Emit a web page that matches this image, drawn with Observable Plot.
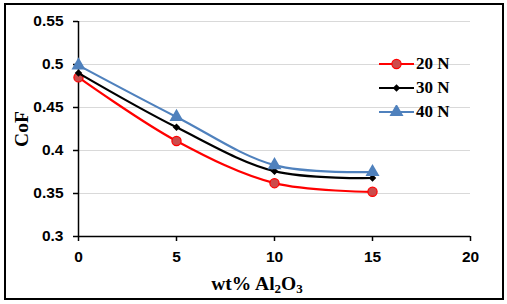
<!DOCTYPE html>
<html>
<head>
<meta charset="utf-8">
<script src="https://cdn.jsdelivr.net/npm/d3@7"></script>
<script src="https://cdn.jsdelivr.net/npm/@observablehq/plot@0.6"></script>
<style>
  html, body { margin: 0; padding: 0; background: #fff; }
  #wrap { position: relative; width: 507px; height: 304px; overflow: hidden; }
  #frame { position: absolute; left: 4px; top: 3px; width: 500px; height: 297px; border: 2px solid #000; box-sizing: border-box; pointer-events: none; }
  .lbl { position: absolute; font-family: "Liberation Serif", "Times New Roman", serif; font-weight: bold; color: #000; white-space: nowrap; }
  #ylab { left: 22px; top: 129px; font-size: 19.5px; transform: translate(-50%, -50%) rotate(-90deg); }
  #xlab { left: 257px; top: 284px; font-size: 19.5px; transform: translate(-50%, -50%); }
  #xlab sub { font-size: 13px; vertical-align: -3px; line-height: 0; }
  #legend { position: absolute; left: 379px; top: 52px; }
  .item { display: flex; align-items: center; height: 24px; font-family: "Liberation Serif", serif; font-weight: bold; font-size: 17px; }
  .item svg { margin-right: 2px; }
</style>
</head>
<body>
<div id="wrap">
  <div id="chart"></div>
  <div id="ylab" class="lbl">CoF</div>
  <div id="xlab" class="lbl">wt% Al<sub>2</sub>O<sub>3</sub></div>
  <div id="legend"></div>
  <div id="frame"></div>
</div>
<script>
const xValues = [0, 5, 10, 15];
const seriesNames = ["20 N", "30 N", "40 N"];
const cof20 = [0.485, 0.411, 0.362, 0.352];
const cof30 = [0.490, 0.427, 0.376, 0.368];
const cof40 = [0.499, 0.439, 0.383, 0.375];
const xTicks = [0, 5, 10, 15, 20];
const yTicks = [0.3, 0.35, 0.4, 0.45, 0.5, 0.55];

const lineColors = ["#ff0000", "#000000", "#4f81bd"];
const markerFill = ["#cc4b4b", "#000000", "#4f81bd"];
const symbols = ["circle", "diamond2", "triangle"];
const radii = [4.6, 3.4, 5.2];

const allSeries = [cof20, cof30, cof40];
const data = [];
allSeries.forEach((vals, i) => {
  vals.forEach((v, j) => data.push({series: seriesNames[i], x: xValues[j], y: v}));
});

const marks = [
  Plot.gridY(yTicks.filter(d => d > 0.3), {stroke: "#d9d9d9", strokeOpacity: 1, strokeWidth: 1}),
  Plot.ruleY([0.3], {stroke: "#000", strokeWidth: 1.5}),
  Plot.ruleX([0], {stroke: "#000", strokeWidth: 1.5}),
  Plot.axisX(xTicks, {tickSize: 5, tickPadding: 9, strokeWidth: 1.5, label: null, tickFormat: d => String(d)}),
  Plot.axisY(yTicks, {tickSize: 5, tickPadding: 10, strokeWidth: 1.5, label: null, tickFormat: d => String(+d.toFixed(2))}),
];
seriesNames.forEach((name, i) => {
  const sd = data.filter(d => d.series === name);
  marks.push(Plot.line(sd, {x: "x", y: "y", stroke: lineColors[i], strokeWidth: 2.2, curve: "catmull-rom"}));
  marks.push(Plot.dot(sd, {x: "x", y: "y", symbol: symbols[i], r: radii[i], fill: markerFill[i], stroke: lineColors[i], strokeWidth: i === 0 ? 1.2 : 0}));
});

const chart = Plot.plot({
  width: 507,
  height: 304,
  marginLeft: 78,
  marginRight: 37,
  marginTop: 21,
  marginBottom: 68,
  x: {domain: [0, 20]},
  y: {domain: [0.3, 0.55]},
  style: {fontFamily: "'Liberation Sans', Arial, sans-serif", fontSize: "15.5px", fontWeight: "bold", color: "#000", background: "#fff"},
  marks
});
document.getElementById("chart").appendChild(chart);

// legend
const legend = document.getElementById("legend");
seriesNames.forEach((name, i) => {
  const item = document.createElement("div");
  item.className = "item";
  const type = symbols[i] === "circle" ? d3.symbolCircle : symbols[i] === "diamond2" ? d3.symbolDiamond2 : d3.symbolTriangle;
  const sym = d3.symbol(type, Math.PI * radii[i] * radii[i])();
  item.innerHTML = `<svg width="35" height="14"><line x1="0" x2="35" y1="7" y2="7" stroke="${lineColors[i]}" stroke-width="2.2"/><path transform="translate(17.5,7)" d="${sym}" fill="${markerFill[i]}" stroke="${lineColors[i]}" stroke-width="${i===0?1.2:0}"/></svg><span>${name}</span>`;
  legend.appendChild(item);
});
</script>
</body>
</html>
